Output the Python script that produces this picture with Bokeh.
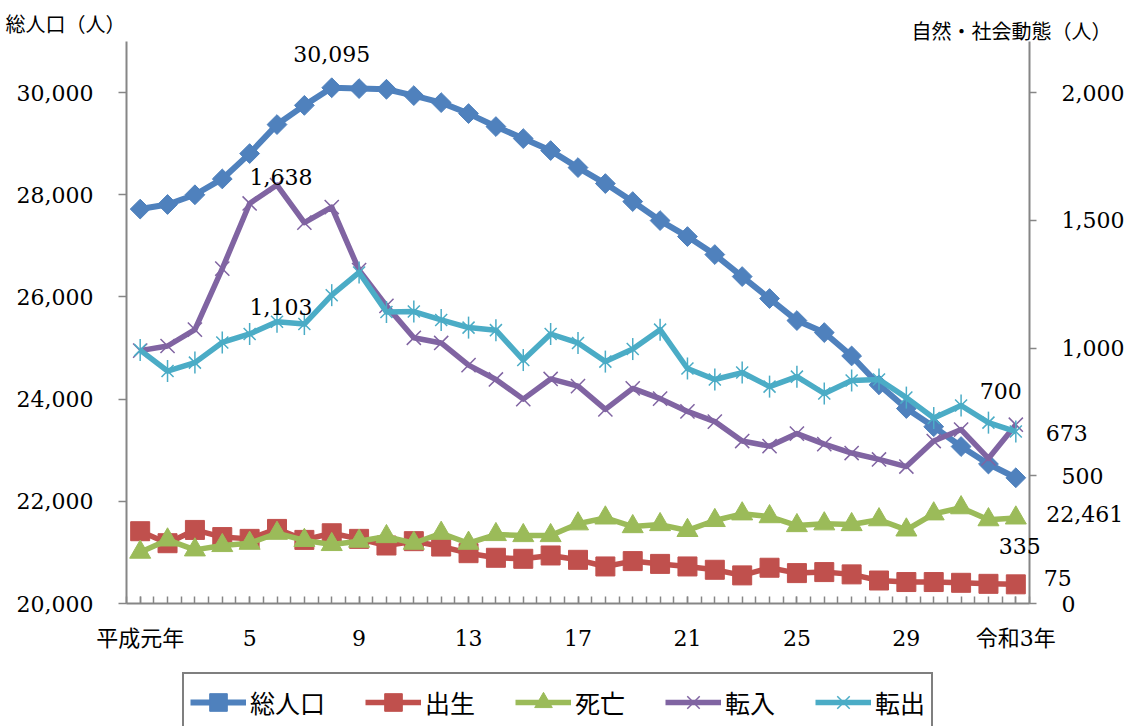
import math
from bokeh.plotting import figure
from bokeh.models import (Range1d, LinearAxis, FixedTicker, NumeralTickFormatter,
                          Label, Legend, LegendItem)
from bokeh.embed import file_html
from bokeh.resources import INLINE

# ---------------- data ----------------
x_idx = list(range(33))  # 平成元年 (0) ... 令和3年 (32)
tick_idx = [0, 4, 8, 12, 16, 20, 24, 28, 32]
tick_labels = ["平成元年", "5", "9", "13", "17", "21", "25", "29", "令和3年"]

total = [27720, 27810, 28000, 28310, 28806, 29374, 29750, 30095, 30078, 30065,
         29941, 29804, 29589, 29335, 29100, 28865, 28532, 28219, 27867, 27495,
         27182, 26830, 26399, 25969, 25538, 25303, 24845, 24280, 23816, 23460,
         23072, 22730, 22461]
births = [283, 236, 288, 260, 253, 292, 249, 275, 253, 227, 244, 223, 197, 179,
          175, 188, 171, 145, 166, 155, 145, 132, 110, 140, 119, 123, 114, 90,
          84, 84, 81, 77, 75]
deaths = [201, 249, 210, 227, 236, 275, 247, 231, 244, 262, 236, 275, 236, 270,
          266, 266, 312, 335, 301, 309, 286, 325, 351, 340, 305, 312, 309, 328,
          288, 351, 375, 328, 335]
moved_in = [990, 1008, 1072, 1311, 1566, 1638, 1491, 1552, 1305, 1165, 1040,
            1020, 933, 877, 800, 879, 851, 760, 842, 802, 752, 712, 636, 616,
            665, 624, 589, 564, 536, 636, 681, 568, 700]
moved_out = [992, 910, 943, 1022, 1055, 1103, 1094, 1207, 1296, 1141, 1143,
             1110, 1080, 1070, 953, 1055, 1020, 947, 996, 1072, 920, 877, 904,
             849, 888, 822, 873, 877, 806, 726, 775, 708, 673]

series_names = ["総人口", "出生", "死亡", "転入", "転出"]
colors = ["#4F81BD", "#C0504D", "#9BBB59", "#8064A2", "#4BACC6"]

left_min, left_max = 20000, 31000
right_min, right_max = 0, 2200
x_min, x_max = -0.5, 32.5

SERIF = "DejaVu Serif"
CJK = "Noto Sans CJK JP"
AXIS_GRAY = "#868686"

# ---------------- layout (pixels) ----------------
W, H = 1136, 726
PL, PR, PT, PB = 126, 1029, 41, 603   # edges of the data area on the canvas

ppx = (PR - PL) / (x_max - x_min)
x_start = x_min - PL / ppx
x_end = x_max + (W - PR) / ppx
ppl = (PB - PT) / (left_max - left_min)
yl_start = left_min - (H - PB) / ppl
yl_end = left_max + PT / ppl
ppr = (PB - PT) / (right_max - right_min)
yr_start = right_min - (H - PB) / ppr
yr_end = right_max + PT / ppr

p = figure(width=W, height=H, output_backend="svg", toolbar_location=None,
           x_range=Range1d(x_start, x_end), y_range=Range1d(yl_start, yl_end),
           x_axis_location=None, y_axis_location=None,
           min_border_left=0, min_border_right=0, min_border_top=0,
           min_border_bottom=0)
p.extra_y_ranges = {"right": Range1d(yr_start, yr_end)}
p.outline_line_color = None
p.background_fill_color = "white"
p.border_fill_color = "white"
p.grid.visible = False


def style_axis(ax):
    ax.axis_line_color = AXIS_GRAY
    ax.axis_line_width = 2
    ax.major_tick_line_color = AXIS_GRAY
    ax.minor_tick_line_color = AXIS_GRAY
    ax.major_tick_line_width = 1.5
    ax.minor_tick_line_width = 1.5
    ax.major_label_text_color = "black"
    ax.major_label_text_font_size = "22px"
    ax.axis_label = None


# x axis
xa = LinearAxis(fixed_location=left_min, bounds=(x_min, x_max),
                ticker=FixedTicker(ticks=tick_idx,
                                   minor_ticks=[x_min + i * 0.5 for i in range(67)]))
style_axis(xa)
xa.major_label_overrides = {t: lab for t, lab in zip(tick_idx, tick_labels)}
xa.major_tick_in = 7
xa.major_tick_out = 0
xa.minor_tick_in = 7
xa.minor_tick_out = 0
xa.major_label_text_font = SERIF + ", " + CJK
xa.major_label_standoff = 22
p.add_layout(xa, "below")

# left y axis
ya = LinearAxis(fixed_location=x_min, bounds=(left_min, left_max),
                ticker=FixedTicker(ticks=[20000, 22000, 24000, 26000, 28000, 30000]),
                formatter=NumeralTickFormatter(format="0,0"))
style_axis(ya)
ya.major_tick_out = 8
ya.major_tick_in = 0
ya.minor_tick_out = 0
ya.minor_tick_in = 0
ya.major_label_text_font = SERIF
ya.major_label_standoff = 25
p.add_layout(ya, "left")

# right y axis
ra = LinearAxis(y_range_name="right", fixed_location=x_max,
                bounds=(right_min, right_max),
                ticker=FixedTicker(ticks=[0, 500, 1000, 1500, 2000]),
                formatter=NumeralTickFormatter(format="0,0"))
style_axis(ra)
ra.major_tick_out = 7
ra.major_tick_in = 0
ra.minor_tick_out = 0
ra.minor_tick_in = 0
ra.major_label_text_font = SERIF
ra.major_label_standoff = 25
p.add_layout(ra, "right")

# ---------------- series ----------------
items = []

l0 = p.line(x_idx, total, line_color=colors[0], line_width=6, line_join="round")
m0 = p.scatter(x_idx, total, marker="square", angle=math.pi / 4, size=14,
               fill_color=colors[0], line_color=colors[0])
items.append(LegendItem(label=series_names[0], renderers=[l0, m0]))

l1 = p.line(x_idx, births, y_range_name="right", line_color=colors[1],
            line_width=5.5, line_join="round")
m1 = p.scatter(x_idx, births, y_range_name="right", marker="square", size=19,
               fill_color=colors[1], line_color=colors[1])
items.append(LegendItem(label=series_names[1], renderers=[l1, m1]))

l2 = p.line(x_idx, deaths, y_range_name="right", line_color=colors[2],
            line_width=5.5, line_join="round")
m2 = p.scatter(x_idx, deaths, y_range_name="right", marker="triangle", size=21,
               fill_color=colors[2], line_color=colors[2])
items.append(LegendItem(label=series_names[2], renderers=[l2, m2]))

l3 = p.line(x_idx, moved_in, y_range_name="right", line_color=colors[3],
            line_width=5.5, line_join="round")
m3 = p.scatter(x_idx, moved_in, y_range_name="right", marker="x", size=20,
               line_color=colors[3], line_width=1.5)
items.append(LegendItem(label=series_names[3], renderers=[l3, m3]))

l4 = p.line(x_idx, moved_out, y_range_name="right", line_color=colors[4],
            line_width=5.5, line_join="round")
m4a = p.scatter(x_idx, moved_out, y_range_name="right", marker="x", size=17,
                line_color=colors[4], line_width=1.5)
m4b = p.scatter(x_idx, moved_out, y_range_name="right", marker="dash",
                angle=math.pi / 2, size=22, line_color=colors[4], line_width=1.5)
items.append(LegendItem(label=series_names[4], renderers=[l4, m4a, m4b]))

# ---------------- data labels ----------------
def add_label(xv, yv, dx, dy, right=False):
    kw = dict(x=xv, y=yv, text=f"{yv:,}", x_offset=dx, y_offset=dy,
              text_align="center", text_baseline="middle", text_font=SERIF,
              text_font_size="22px", text_color="black")
    if right:
        kw["y_range_name"] = "right"
    p.add_layout(Label(**kw))

i_peak = total.index(max(total))
i_in = moved_in.index(max(moved_in))
last = x_idx[-1]
add_label(x_idx[i_peak], total[i_peak], 0, 34)
add_label(x_idx[i_in], moved_in[i_in], 4, 8, right=True)
add_label(x_idx[i_in], moved_out[i_in], 4, 15, right=True)
add_label(last, moved_in[-1], -15, 34, right=True)
add_label(last, moved_out[-1], 51, -1, right=True)
add_label(last, total[-1], 69, -36)
add_label(last, deaths[-1], 4, -28, right=True)
add_label(last, births[-1], 42, 6, right=True)

# ---------------- axis titles ----------------
p.add_layout(Label(x=x_min, y=left_max, text="総人口（人）", x_offset=-1,
                   y_offset=18, text_align="right", text_baseline="middle",
                   text_font=CJK, text_font_size="20px", text_color="black"))
p.add_layout(Label(x=x_max, y=right_max, y_range_name="right",
                   text="自然・社会動態（人）", x_offset=-18, y_offset=11,
                   text_align="center", text_baseline="middle",
                   text_font=CJK, text_font_size="20px", text_color="black"))

# ---------------- legend ----------------
LEG_PAD, LEG_GH = 6, 44
legend = Legend(items=items, orientation="horizontal",
                location=(182, (H - 676) - (2 * LEG_PAD + LEG_GH)),
                glyph_width=56, glyph_height=LEG_GH, label_standoff=4, spacing=40,
                padding=LEG_PAD, margin=0, border_line_color="black",
                border_line_width=2.5, background_fill_color="white",
                background_fill_alpha=1.0, label_text_font=CJK,
                label_text_font_size="25px", label_text_color="black")
p.add_layout(legend)

open("out.html", "w").write(file_html(p, INLINE))
